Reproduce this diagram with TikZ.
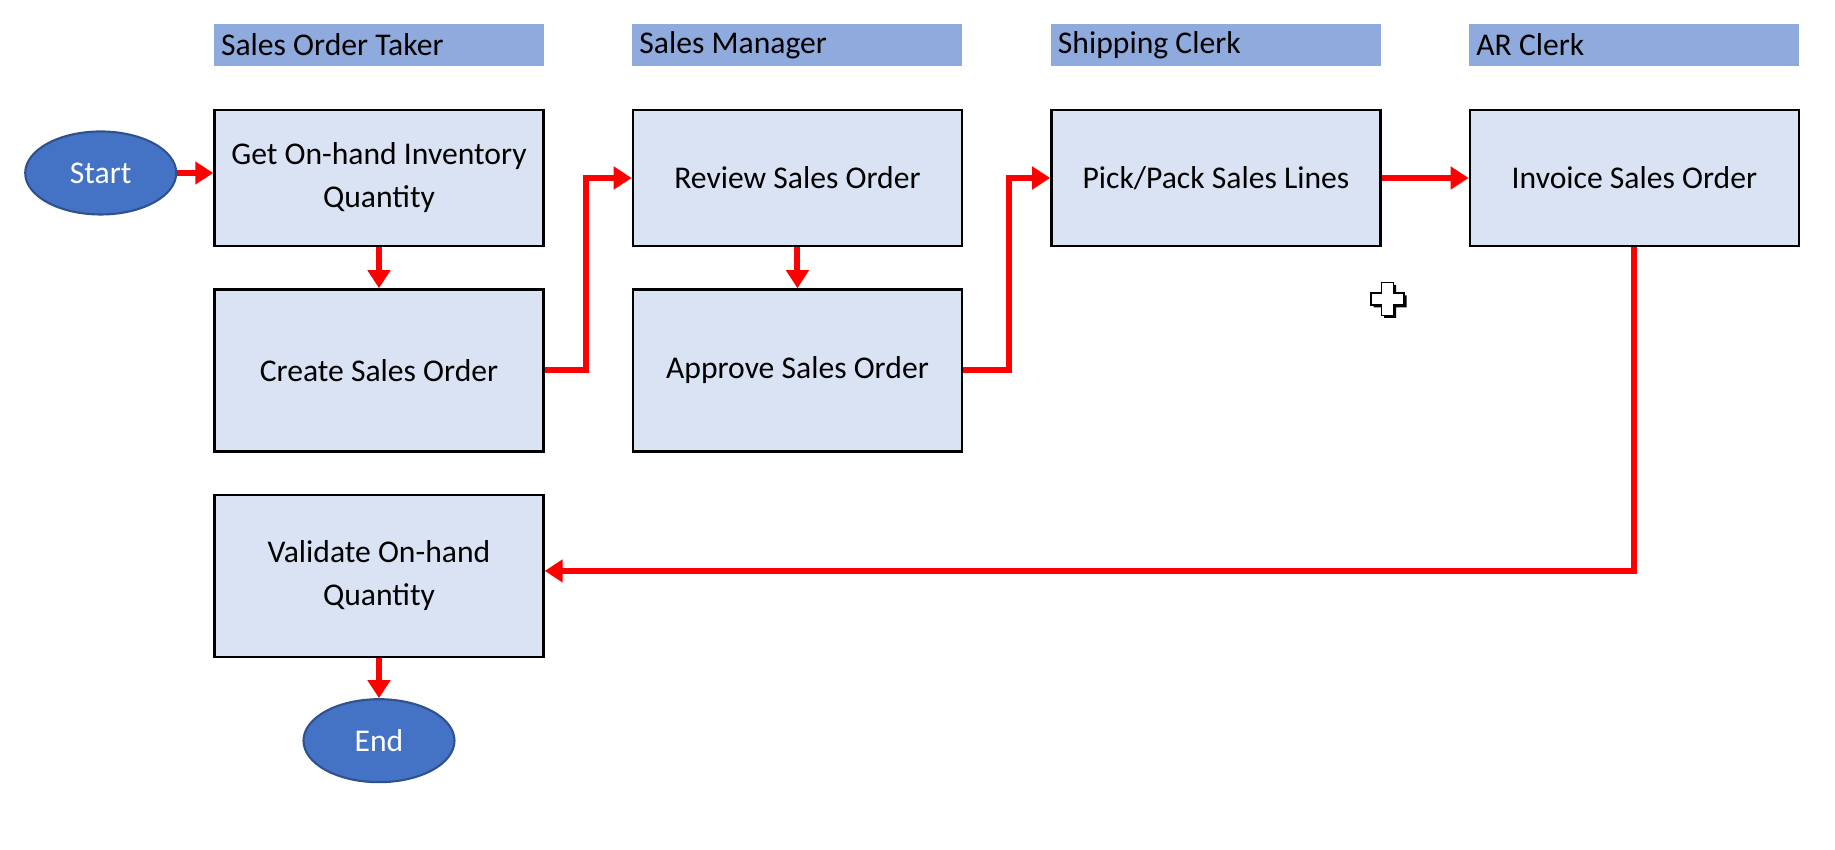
\documentclass[tikz,border=0pt]{standalone}
\usepackage{fontspec}
\setmainfont{Carlito}
\usepackage{xcolor}
\usetikzlibrary{positioning}
\usetikzlibrary{shapes.geometric}
\usetikzlibrary{arrows.meta}
\definecolor{boxfill}{HTML}{DAE3F3}
\definecolor{lanefill}{HTML}{8FAADC}
\definecolor{termfill}{HTML}{4472C4}
\definecolor{termline}{HTML}{2F528F}
\tikzstyle{task}=[rectangle, draw=black, fill=boxfill, line width=0.7pt, minimum width=3.29cm, minimum height=1.36cm, align=center]
\tikzstyle{tall}=[minimum height=1.62cm]
\tikzstyle{lane}=[rectangle, fill=lanefill, minimum height=0.42cm, text width=3.16cm, inner xsep=0.07cm, inner ysep=0pt, align=flush left]
\tikzstyle{terminal}=[ellipse, fill=termfill, draw=termline, line width=0.6pt, text=white, minimum width=1.51cm, minimum height=0.83cm]
\tikzstyle{flow}=[-{Triangle[width=2.2mm,length=1.8mm]}, draw=red, line width=1.7pt]

\begin{document}
\begin{tikzpicture}[node distance = 0.41cm, font=\fontsize{9pt}{12.2pt}\selectfont]
    \useasboundingbox (0,0) rectangle (18.35,-8.5);

    \node[task]           (getqty)   at (3.79,-1.78)          {Get On-hand Inventory\\Quantity};
    \node[task]           (review)   [right = 0.87cm of getqty] {Review Sales Order};
    \node[task]           (pick)     [right = 0.87cm of review] {Pick/Pack Sales Lines};
    \node[task]           (invoice)  [right = 0.87cm of pick]   {Invoice Sales Order};
    \node[task, tall]     (create)   [below = of getqty]        {Create Sales Order};
    \node[task, tall]     (approve)  [below = of review]        {Approve Sales Order};
    \node[task, tall]     (validate) [below = of create]        {Validate On-hand\\Quantity};

    \node[terminal]       (start)    [left = 0.36cm of getqty, yshift=0.05cm] {Start};
    \node[terminal]       (end)      [below = 0.40cm of validate] {End};

    \node[lane]           (taker)    [above = 0.42cm of getqty]  {Sales Order Taker};
    \node[lane]           (manager)  [above = 0.42cm of review]  {Sales Manager};
    \node[lane]           (clerk)    [above = 0.42cm of pick]    {Shipping Clerk};
    \node[lane]           (arclerk)  [above = 0.42cm of invoice] {AR Clerk};

    \draw[flow] (start) -- (start -| getqty.west);
    \draw[flow] (getqty) -- (create);
    \draw[flow] (create.east) -- ++(0.41,0) |- (review);
    \draw[flow] (review) -- (approve);
    \draw[flow] (approve.east) -- ++(0.46,0) |- (pick);
    \draw[flow] (pick) -- (invoice);
    \draw[flow] (invoice) |- ([yshift=0.05cm]validate.east);
    \draw[flow] (validate) -- (end);

    % pointer left on the page
    \begin{scope}[shift={(13.875,-2.99)}]
      \fill[black] (-0.035,0.14) -- (0.085,0.14) -- (0.085,0.035) -- (0.19,0.035) -- (0.19,-0.085) -- (0.085,-0.085) -- (0.085,-0.19) -- (-0.035,-0.19) -- (-0.035,-0.085) -- (-0.14,-0.085) -- (-0.14,0.035) -- (-0.035,0.035) -- cycle;
      \draw[fill=white, line width=0.5pt] (-0.06,0.165) -- (0.06,0.165) -- (0.06,0.06) -- (0.165,0.06) -- (0.165,-0.06) -- (0.06,-0.06) -- (0.06,-0.165) -- (-0.06,-0.165) -- (-0.06,-0.06) -- (-0.165,-0.06) -- (-0.165,0.06) -- (-0.06,0.06) -- cycle;
    \end{scope}
\end{tikzpicture}
\end{document}
